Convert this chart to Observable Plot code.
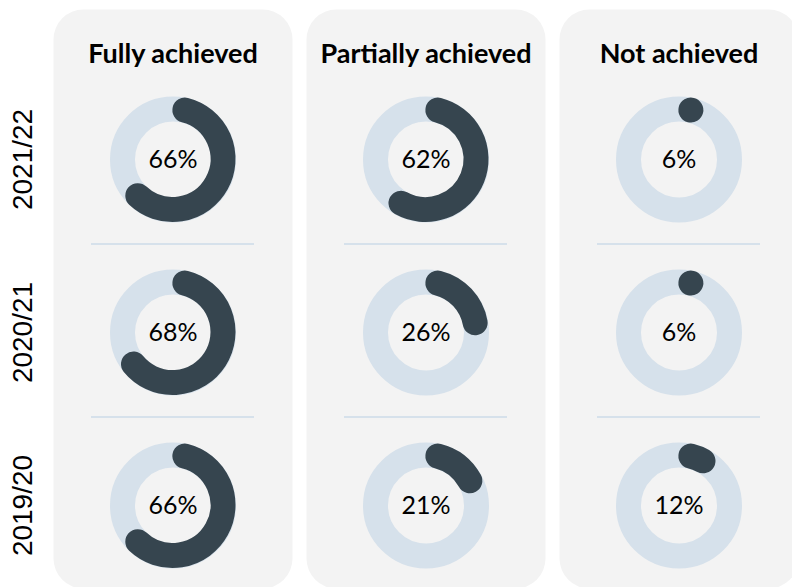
<!DOCTYPE html>
<html><head><meta charset="utf-8">
<script src="https://cdn.jsdelivr.net/npm/d3@7"></script>
<script src="https://cdn.jsdelivr.net/npm/@observablehq/plot@0.6"></script>
<style>body{margin:0;background:#fff;} #chart{width:792px;height:587px;overflow:hidden;}</style>
</head><body><div id="chart"></div>
<script>
const columns = ["Fully achieved", "Partially achieved", "Not achieved"];
const years = ["2021/22", "2020/21", "2019/20"];
const fully = [66, 68, 66];
const partially = [62, 26, 21];
const notAchieved = [6, 6, 12];

const series = [fully, partially, notAchieved];
const data = columns.flatMap((c, i) => years.map((y, j) => ({column: c, year: y, value: series[i][j]})));

const DARK = "#36454f";
const RING = "#d6e1eb";
const PANEL = "#f3f3f3";
const R = 50.5, W = 25;

function arcPath(value) {
  const off = (W / 2) / R;
  const a0 = off;
  const a1 = Math.max(a0, value / 100 * 2 * Math.PI - off);
  const p = d3.path();
  const sx = R * Math.sin(a0), sy = -R * Math.cos(a0);
  p.moveTo(sx, sy);
  if (a1 - a0 < 1e-3) {
    p.lineTo(sx + 0.01 * Math.cos(a0), sy + 0.01 * Math.sin(a0));
  } else {
    p.arc(0, 0, R, a0 - Math.PI / 2, a1 - Math.PI / 2, false);
  }
  return p.toString();
}

const chart = Plot.plot({
  width: 792, height: 587,
  marginTop: 9, marginBottom: 0, marginLeft: 52, marginRight: 0,
  fx: {domain: columns, range: [52, 799], paddingInner: 0.055, paddingOuter: 0, axis: null},
  y: {type: "point", domain: years, range: [159, 505], padding: 0, axis: null},
  style: {background: "white", overflow: "hidden"},
  marks: [
    Plot.frame({fill: PANEL, stroke: null, rx: 30, insetBottom: -1}),
    Plot.text(columns, {fx: d => d, text: d => d, frameAnchor: "top", lineAnchor: "middle", dy: 45,
      fontSize: 27, fontWeight: 700, fontFamily: "Lato", fill: "black"}),
    Plot.text(years, {fx: () => columns[0], y: d => d, text: d => d, frameAnchor: "left",
      textAnchor: "middle", dx: -30, rotate: -90, fontSize: 28, fontFamily: "Liberation Sans", fill: "black"}),
    Plot.ruleY(data.filter(d => d.year !== years[0]), {fx: "column", y: "year", dy: -88.5,
      stroke: RING, strokeWidth: 2, insetLeft: 38, insetRight: 38}),
    Plot.dot(data, {fx: "column", y: "year", r: R, stroke: RING, strokeWidth: W, fill: "none"}),
    Plot.dot(data, {fx: "column", y: "year", r: 1, render: (index, scales, values, dimensions) => {
      const g = d3.create("svg:g");
      const cx = (dimensions.marginLeft + dimensions.width - dimensions.marginRight) / 2;
      for (const i of index) {
        g.append("path")
          .attr("transform", `translate(${cx},${values.y[i]})`)
          .attr("d", arcPath(data[i].value))
          .attr("fill", "none")
          .attr("stroke", DARK)
          .attr("stroke-width", W)
          .attr("stroke-linecap", "round");
      }
      return g.node();
    }}),
    Plot.text(data, {fx: "column", y: "year", text: d => d.value + "%", fontSize: 25,
      fontFamily: "Lato", fill: "black"})
  ]
});
document.getElementById("chart").append(chart);
</script>
</body></html>
